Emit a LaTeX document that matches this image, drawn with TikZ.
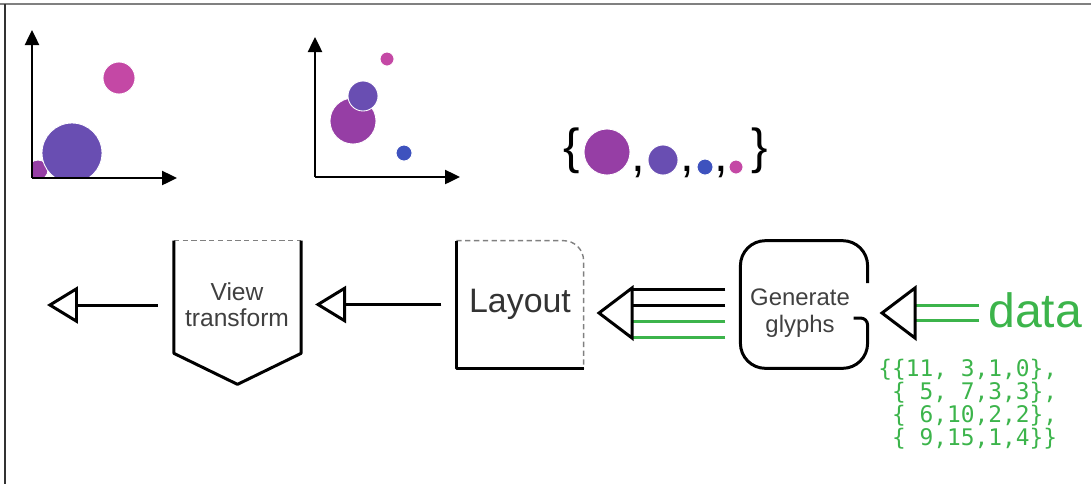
\documentclass[tikz,border=0pt]{standalone}
\usepackage{fontspec}
\setmainfont{Liberation Sans}
\newfontfamily\codefont{DejaVu Sans Mono}
\usetikzlibrary{arrows.meta,calc}
\definecolor{datagreen}{RGB}{60,180,75}
\definecolor{plum}{RGB}{150,62,165}
\definecolor{indigo}{RGB}{105,78,178}
\definecolor{cobalt}{RGB}{62,82,190}
\definecolor{rose}{RGB}{196,72,165}
\tikzset{
  axis/.style={line width=1.4pt,-{Triangle[length=0.3cm,width=0.28cm]}},
  dot/.style={draw=white,line width=0.5pt},
  stage/.style={minimum width=2.53cm,minimum height=2.54cm,inner sep=0pt},
  wall/.style={line width=1.7pt,line join=round},
  seam/.style={gray,line width=0.8pt,dash pattern=on 3pt off 2pt},
  wire/.style={line width=1.7pt},
  flow/.style={line width=1.7pt,-{Triangle[open,length=0.62cm,width=0.74cm]}},
  head/.style={line width=1.7pt,line join=miter,fill=white},
  caption/.style={align=center,font=\fontsize{14}{14.7}\selectfont,text=black!75},
}
\begin{document}
\begin{tikzpicture}[x=0.02cm,y=-0.02cm]
\useasboundingbox (0,0) rectangle (1091,484);
% frame
\draw[gray,line width=1pt] (0,4) -- (1091,4);
\draw[black!80,line width=0.9pt] (5,4) -- (5,484);

% plot after the view transform
\begin{scope}
  \clip (32,30) rectangle (180,178);
  \fill[plum,dot] (38,170) circle (10);
  \fill[indigo,dot] (72,153) circle (30);
  \fill[rose,dot] (119,78) circle (16);
\end{scope}
\draw[axis] (32,178) -- (32,30);
\draw[axis] (32,178) -- (177,178);

% plot after layout
\foreach \cx/\cy/\r/\c in {387/59/7/rose,353/121/23/plum,363/96/15/indigo,404/153/8/cobalt}
  \fill[\c,dot] (\cx,\cy) circle (\r);
\draw[axis] (315,177) -- (315,37);
\draw[axis] (315,177) -- (460,177);

% the set of glyphs
\node[font=\fontsize{28}{28}\selectfont,inner sep=0pt] (lbrace) at (572,151) {\{};
\node[font=\fontsize{28}{28}\selectfont,inner sep=0pt] (rbrace) at (760,151) {\}};
\foreach \cx/\cy/\r/\c in {607/152/23/plum,663/160/15/indigo,705/167/8/cobalt,736/167/7/rose}
  \fill[\c,dot] (\cx,\cy) circle (\r);
\foreach \cx [count=\i] in {638,687,721}
  \node[font=\fontsize{28}{28}\selectfont,inner sep=0pt] (comma\i) at (\cx,172) {,};

% pipeline stages
\node[stage,minimum height=2.24cm] (view) at (237.5,297) {};
\node[caption] (viewname) at (237,305) {View\\transform};
\node[stage,font=\fontsize{19.3}{19.3}\selectfont,text=black!80] (layout) at (520,304.5) {Layout};
\node[stage] (glyphs) at (804,304.5) {};
\node[caption,font=\fontsize{13.6}{15.3}\selectfont] (glyphsname) at (800,313) {Generate\\glyphs};

\draw[seam] (view.north west) -- (view.north east);
\draw[wall] (view.north west) -- (view.south west) -- ($(view.south)+(0,31)$)
  -- (view.south east) -- (view.north east);

\draw[seam,rounded corners=0.4cm] (layout.north west) -- (layout.north east) -- (layout.south east);
\draw[wall] (layout.north west) -- (layout.south west) -- (layout.south east);

\draw[wall,rounded corners=0.5cm] ($(glyphs.east)+(0,-21.5)$) -- (glyphs.north east)
  -- (glyphs.north west) -- (glyphs.south west) -- (glyphs.south east)
  [rounded corners=0.14cm] -- ($(glyphs.east)+(0,13.5)$) -- ++(-14,0);

% input data
\node[font=\fontsize{27.4}{27.4}\selectfont,text=datagreen,anchor=west,inner sep=0.18cm] (data) at (979,310) {data};
\node[font=\codefont\fontsize{13}{13.04}\selectfont,text=datagreen,anchor=north west,
  align=left,inner sep=0pt] (table) at (878,359)
  {\{\{11,\ 3,1,0\},\\\ \{\ 5,\ 7,3,3\},\\\ \{\ 6,10,2,2\},\\\ \{\ 9,15,1,4\}\}};

% connectors
\coordinate (intip) at (882,313);
\coordinate (inbase) at (915,313);
\foreach \dy in {-5,10}
  \draw[wire,datagreen] ($(data.west)+(0,\dy)$) -- ($(inbase |- data.west)+(0,\dy)$);
\draw[head] (intip) -- ++(33,-25) -- ++(0,50) -- cycle;

\coordinate (fan) at (599,313);
\coordinate (fanbase) at (632,313);
\foreach \dy/\c in {289/black,305/black,321/datagreen,337/datagreen}
  \draw[wire,\c,shorten <=0.3cm] (glyphs.west |- 0,\dy) -- (fanbase |- 0,\dy);
\draw[head] (fan) -- ++(33,-25) -- ++(0,50) -- cycle;

\draw[flow,shorten <=0.3cm,shorten >=0.28cm] (layout.west) -- (layout.west -| view.east);
\coordinate (sink) at (47,305);
\draw[flow,shorten <=0.32cm] (view.west |- sink) -- (sink);
\end{tikzpicture}
\end{document}
